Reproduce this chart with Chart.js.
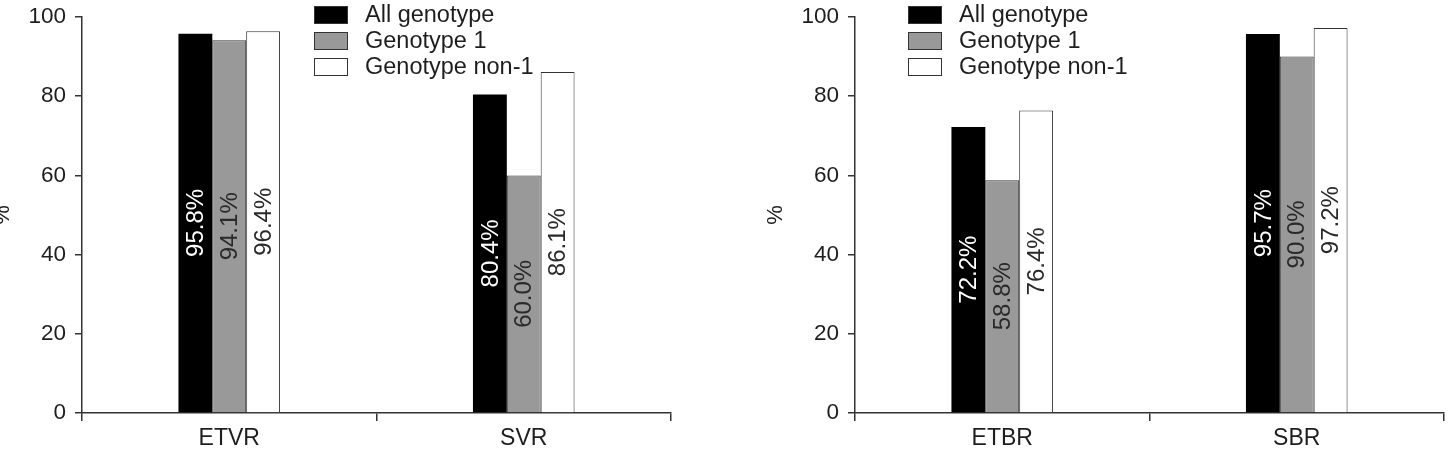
<!DOCTYPE html>
<html>
<head>
<meta charset="utf-8">
<script src="https://cdn.jsdelivr.net/npm/chart.js@4.4.1/dist/chart.umd.min.js"></script>
<style>
  html, body { margin: 0; padding: 0; background: #fff; }
  body { width: 1453px; height: 453px; overflow: hidden; position: relative; font-family: "Liberation Sans", Arial, sans-serif; }
  .panel { position: absolute; top: 0; width: 699px; height: 453px; }
  .legend { position: absolute; top: 0; color: #1e1e1e; font-size: 23.5px; }
  .legend .row { position: absolute; left: 0; height: 26px; white-space: nowrap; }
  .legend .box { position: absolute; left: 0; width: 32px; height: 16px; border: 1px solid #333; box-sizing: content-box; }
  .legend .txt { position: absolute; left: 51px; top: -5px; line-height: 26px; }
</style>
</head>
<body>
<div class="panel" id="leftPanel" style="left:-18px"><canvas id="leftChart" width="699" height="453"></canvas></div>
<div class="panel" id="rightPanel" style="left:755px"><canvas id="rightChart" width="699" height="453"></canvas></div>
<div class="legend" id="leftLegend" style="left:314px"></div>
<div class="legend" id="rightLegend" style="left:908px"></div>
<script>
const leftCategories = ['ETVR', 'SVR'];
const rightCategories = ['ETBR', 'SBR'];
const seriesNames = ['All genotype', 'Genotype 1', 'Genotype non-1'];

const leftAllGenotype = [95.8, 80.4];
const leftGenotype1 = [94.1, 60.0];
const leftNonGenotype1 = [96.4, 86.1];

const rightAllGenotype = [72.2, 95.7];
const rightGenotype1 = [58.8, 90.0];
const rightNonGenotype1 = [76.4, 97.2];

const yTicks = [0, 20, 40, 60, 80, 100];

const fills = ['#000000', '#999999', '#ffffff'];
const labelColors = ['#ffffff', '#2a2a2a', '#2a2a2a'];
const axisColor = '#333333';
const textColor = '#1e1e1e';
const fontFamily = '"Liberation Sans", Arial, sans-serif';

// writes the value inside each bar, rotated, centred on the bar
const barLabels = {
    id: 'barLabels',
    afterDatasetsDraw(chart) {
        const ctx = chart.ctx;
        chart.data.datasets.forEach((ds, i) => {
            const meta = chart.getDatasetMeta(i);
            meta.data.forEach((bar, j) => {
                const mid = (bar.y + bar.base) / 2;
                ctx.save();
                ctx.translate(bar.x, mid);
                ctx.rotate(-Math.PI / 2);
                ctx.font = '24px ' + fontFamily;
                ctx.fillStyle = labelColors[i];
                ctx.textAlign = 'center';
                ctx.textBaseline = 'middle';
                ctx.fillText(ds.data[j].toFixed(1) + '%', 0, 1);
                ctx.restore();
            });
        });
    }
};

function makeChart(id, categories, values) {
    const ctx = document.getElementById(id).getContext('2d');
    return new Chart(ctx, {
        type: 'bar',
        data: {
            labels: categories,
            datasets: values.map((v, i) => ({
                label: seriesNames[i],
                data: v,
                backgroundColor: fills[i],
                borderColor: axisColor,
                borderWidth: i === 0 ? 0 : 1,
                barPercentage: 1,
                categoryPercentage: 0.345
            }))
        },
        options: {
            responsive: false,
            animation: false,
            layout: { padding: { top: 17, right: 10, left: 0, bottom: 0 } },
            plugins: {
                legend: { display: false },
                tooltip: { enabled: false }
            },
            scales: {
                x: {
                    afterFit(scale) { scale.height = 40; },
                    grid: {
                        offset: true,
                        drawOnChartArea: false,
                        tickLength: 8,
                        color: axisColor,
                        lineWidth: 1.5
                    },
                    border: { color: axisColor, width: 1.5 },
                    ticks: {
                        color: textColor,
                        font: { family: fontFamily, size: 23 },
                        padding: 4
                    }
                },
                y: {
                    min: 0,
                    max: 100,
                    afterFit(scale) { scale.width = 100; },
                    afterBuildTicks(scale) { scale.ticks = yTicks.map(v => ({ value: v })); },
                    grid: {
                        drawOnChartArea: false,
                        tickLength: 7,
                        color: axisColor,
                        lineWidth: 1.5
                    },
                    border: { color: axisColor, width: 1.5 },
                    ticks: {
                        color: textColor,
                        font: { family: fontFamily, size: 22.5, lineHeight: 0.7 },
                        padding: 9
                    },
                    title: {
                        display: true,
                        text: '%',
                        color: textColor,
                        font: { family: fontFamily, size: 22 },
                        padding: { top: 8, bottom: 0 }
                    }
                }
            }
        },
        plugins: [barLabels]
    });
}

function buildLegend(id) {
    const el = document.getElementById(id);
    seriesNames.forEach((name, i) => {
        const row = document.createElement('div');
        row.className = 'row';
        row.style.top = (6 + i * 26) + 'px';
        const box = document.createElement('div');
        box.className = 'box';
        box.style.background = fills[i];
        const txt = document.createElement('div');
        txt.className = 'txt';
        txt.textContent = name;
        row.appendChild(box);
        row.appendChild(txt);
        el.appendChild(row);
    });
}

makeChart('leftChart', leftCategories, [leftAllGenotype, leftGenotype1, leftNonGenotype1]);
makeChart('rightChart', rightCategories, [rightAllGenotype, rightGenotype1, rightNonGenotype1]);
buildLegend('leftLegend');
buildLegend('rightLegend');
</script>
</body>
</html>
